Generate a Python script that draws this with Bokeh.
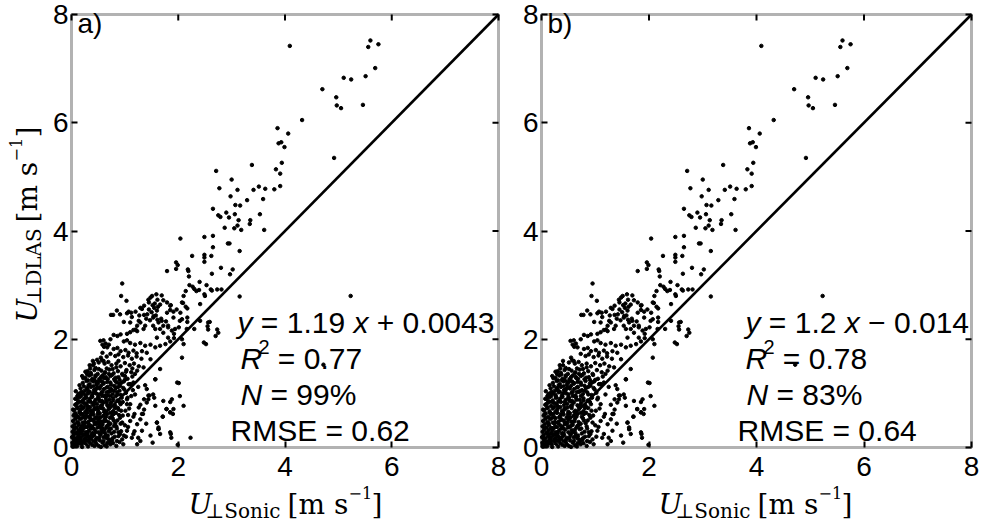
import math
from bokeh.plotting import figure
from bokeh.models import Range1d, FixedTicker, LinearAxis, Label, BoxAnnotation
from bokeh.layouts import row
from bokeh.embed import file_html
from bokeh.resources import INLINE

# ---------------- data ----------------
ticks = [0, 2, 4, 6, 8]
tick_labels = ["0", "2", "4", "6", "8"]
axis_min, axis_max = 0, 8
one_to_one = [0, 8]
panel_letters = ["a)", "b)"]
fit_slope = ["1.19", "1.2"]
fit_sign = ["+", "\u2212"]
fit_icpt = ["0.0043", "0.014"]
r2_vals = ["0.77", "0.78"]
n_vals = ["99%", "83%"]
rmse_vals = ["0.62", "0.64"]

upper_pts = [
    (4.09, 7.42), (5.60, 7.52), (5.56, 7.40), (5.75, 7.45), (5.69, 7.01), (5.10, 6.83), (5.24, 6.80),
    (5.51, 6.86), (4.70, 6.62), (4.96, 6.47), (4.97, 6.32), (5.05, 6.27), (5.46, 6.33), (4.32, 6.05),
    (3.86, 5.90), (4.06, 5.80), (3.88, 5.62), (3.93, 5.64), (3.99, 5.55), (4.92, 5.35), (3.94, 5.26),
    (3.83, 5.14), (3.91, 5.06), (3.91, 4.83), (3.80, 4.77), (3.38, 5.22), (2.71, 5.11), (3.00, 4.95),
    (2.77, 4.79), (3.11, 4.76), (3.41, 4.76), (3.51, 4.82), (3.63, 4.78), (3.29, 4.57), (3.59, 4.59),
    (2.98, 4.64), (3.07, 4.48), (3.16, 4.47), (2.65, 4.41), (2.90, 4.34), (2.75, 4.29), (2.79, 4.26),
    (2.95, 4.25), (3.06, 4.31), (3.53, 4.31), (3.13, 4.20), (3.35, 4.20), (3.34, 4.13), (2.87, 4.06),
    (3.05, 4.05), (3.11, 4.10), (3.18, 4.02), (3.61, 4.02), (2.04, 3.86), (2.49, 3.89), (2.65, 3.91),
    (2.65, 3.70), (2.93, 3.77), (2.96, 3.77), (3.15, 3.63), (2.26, 3.54), (2.49, 3.56), (2.49, 3.51),
    (2.62, 3.54), (2.49, 3.43), (2.18, 3.29), (2.80, 3.32), (3.02, 3.29), (1.96, 3.42), (1.99, 3.37),
    (1.96, 3.30), (4.72, 1.53), (5.23, 2.80), (3.15, 2.79), (0.95, 3.03),
]

mid_pts = [
    (1.79, 3.26), (2.19, 3.26), (2.63, 3.21), (2.97, 3.20), (2.20, 3.16), (2.40, 3.06), (2.53, 3.00),
    (2.27, 2.97), (2.21, 3.00), (2.34, 2.89), (2.49, 2.83), (2.63, 2.90), (2.73, 2.92), (2.81, 2.92),
    (2.10, 2.80), (2.07, 2.68), (2.14, 2.60), (2.17, 2.57), (1.97, 2.55), (1.79, 2.49), (1.86, 2.63),
    (1.72, 2.72), (1.59, 2.83), (1.51, 2.80), (1.48, 2.77), (1.45, 2.68), (1.61, 2.73), (1.69, 2.81),
    (1.79, 2.68), (1.85, 2.62), (1.85, 2.54), (1.91, 2.51), (1.44, 2.73), (1.36, 2.62), (1.29, 2.58),
    (1.20, 2.51), (1.04, 2.48), (0.91, 2.46), (0.78, 2.45), (0.93, 2.80), (1.03, 2.71), (0.85, 2.53),
    (0.74, 2.45), (1.12, 2.49), (1.07, 2.51), (1.32, 2.56), (1.36, 2.45), (1.42, 2.46), (1.53, 2.40),
    (1.58, 2.44), (1.61, 2.36), (1.68, 2.38), (1.77, 2.33), (0.98, 2.32), (1.10, 2.31), (1.26, 2.34),
    (1.13, 2.41), (1.29, 2.31), (1.23, 2.25), (1.38, 2.25), (1.35, 2.19), (1.53, 2.25), (1.57, 2.19),
    (1.66, 2.19), (1.72, 2.25), (1.81, 2.22), (1.88, 2.16), (1.94, 2.19), (2.01, 2.22), (1.16, 2.17),
    (1.20, 2.18), (1.23, 2.15), (1.10, 2.13), (1.04, 2.10), (0.79, 2.08), (0.86, 2.06), (0.92, 2.09),
    (0.73, 2.00), (0.60, 1.98), (0.54, 1.97), (0.64, 1.92), (0.58, 1.90), (0.61, 1.86), (0.67, 1.85),
    (0.98, 1.96), (1.04, 1.98), (1.10, 1.93), (1.19, 1.90), (1.29, 1.93), (1.38, 1.88), (1.48, 1.90),
    (1.57, 1.85), (1.66, 1.88), (1.76, 1.91), (1.85, 1.96), (1.92, 2.02), (1.60, 2.03), (1.72, 2.12),
    (1.81, 2.03), (1.63, 2.31), (1.54, 2.43), (1.69, 2.34), (1.81, 2.25), (1.91, 2.40), (2.03, 2.34),
    (2.07, 2.37), (2.17, 2.40), (2.17, 2.32), (2.04, 2.49), (2.09, 2.67), (2.41, 2.65), (2.50, 2.80),
    (2.30, 2.93), (2.39, 2.91), (2.14, 2.89), (2.61, 2.92), (2.41, 2.34), (2.56, 2.31), (2.59, 2.32),
    (2.55, 2.24), (2.56, 2.18), (2.73, 2.18), (2.75, 2.12), (2.70, 2.06), (2.30, 2.19), (2.16, 2.19),
    (1.92, 2.10), (2.48, 1.94), (2.52, 1.91), (2.07, 2.00), (2.10, 1.91), (2.07, 1.66),
    (0.79, 1.82), (0.86, 1.84), (0.92, 1.78), (1.01, 1.80), (1.07, 1.75), (1.16, 1.79), (1.22, 1.74),
    (1.32, 1.78), (1.41, 1.75), (0.73, 1.73), (0.82, 1.69), (0.88, 1.72), (0.97, 1.67), (1.06, 1.70),
    (1.13, 1.64), (1.22, 1.68), (1.31, 1.64), (0.55, 1.66), (0.60, 1.60), (0.51, 1.57), (0.62, 1.55),
    (0.69, 1.58), (0.75, 1.52), (0.84, 1.55), (0.92, 1.50), (1.00, 1.56), (1.09, 1.52), (1.17, 1.55),
    (1.26, 1.50), (0.57, 1.61), (1.35, 1.48), (1.23, 1.42), (1.48, 1.63), (1.66, 1.45), (0.66, 1.46),
    (0.45, 1.47), (0.40, 1.52), (1.45, 2.55), (1.50, 2.50), (1.40, 2.38), (1.55, 2.58), (1.47, 2.35),
    (1.27, 2.44), (1.62, 2.60), (1.56, 2.66), (1.60, 2.53), (1.52, 2.63), (1.66, 2.64),
]

core_pts = [
    (0.30, 1.41), (0.36, 1.38), (0.43, 1.43), (0.49, 1.36), (0.56, 1.42), (0.63, 1.39), (0.71, 1.44),
    (0.79, 1.37), (0.87, 1.41), (0.95, 1.36), (1.03, 1.43), (1.12, 1.39), (1.19, 1.36),
    (0.26, 1.29), (0.33, 1.33), (0.39, 1.27), (0.45, 1.31), (0.52, 1.26), (0.58, 1.33), (0.65, 1.28),
    (0.73, 1.32), (0.80, 1.26), (0.88, 1.30), (0.96, 1.34), (1.05, 1.27), (1.14, 1.31), (1.57, 1.26),
    (0.21, 1.19), (0.28, 1.23), (0.34, 1.17), (0.41, 1.22), (0.47, 1.16), (0.53, 1.24), (0.60, 1.18),
    (0.67, 1.21), (0.74, 1.16), (0.82, 1.23), (0.90, 1.18), (0.98, 1.22), (1.07, 1.17), (1.16, 1.20),
    (1.38, 1.15),
    (0.17, 1.09), (0.23, 1.13), (0.30, 1.07), (0.36, 1.12), (0.42, 1.06), (0.49, 1.11), (0.55, 1.14),
    (0.61, 1.08), (0.68, 1.12), (0.75, 1.06), (0.83, 1.10), (0.91, 1.14), (0.99, 1.07), (1.10, 1.17),
    (1.41, 1.08), (1.25, 1.12),
    (0.13, 0.99), (0.19, 1.03), (0.26, 0.97), (0.32, 1.02), (0.38, 0.96), (0.44, 1.04), (0.50, 0.98),
    (0.56, 1.01), (0.63, 0.96), (0.70, 1.03), (0.77, 0.99), (0.85, 1.02), (0.93, 0.97), (1.02, 1.01),
    (1.19, 0.98), (1.53, 0.98), (1.44, 0.96),
    (0.10, 0.89), (0.15, 0.93), (0.21, 0.87), (0.27, 0.92), (0.33, 0.86), (0.39, 0.94), (0.45, 0.88),
    (0.51, 0.91), (0.57, 0.86), (0.64, 0.93), (0.71, 0.88), (0.78, 0.91), (0.86, 0.87), (0.94, 0.92),
    (1.04, 0.89), (1.36, 0.89), (1.44, 0.89), (1.72, 0.86), (1.88, 0.89), (2.03, 0.95),
    (0.07, 0.79), (0.12, 0.83), (0.18, 0.77), (0.24, 0.82), (0.30, 0.76), (0.36, 0.84), (0.42, 0.78),
    (0.48, 0.81), (0.54, 0.76), (0.60, 0.83), (0.67, 0.78), (0.74, 0.82), (0.82, 0.77), (0.90, 0.84),
    (1.10, 0.80), (1.29, 0.79), (1.57, 0.77), (2.10, 0.77),
    (0.05, 0.69), (0.10, 0.73), (0.15, 0.67), (0.21, 0.72), (0.26, 0.66), (0.32, 0.74), (0.38, 0.68),
    (0.44, 0.71), (0.50, 0.66), (0.56, 0.73), (0.63, 0.68), (0.70, 0.72), (0.78, 0.67), (0.87, 0.73),
    (1.01, 0.68), (1.36, 0.70), (1.78, 0.71), (1.91, 0.71),
    (0.04, 0.59), (0.08, 0.63), (0.13, 0.57), (0.18, 0.62), (0.24, 0.56), (0.29, 0.64), (0.35, 0.58),
    (0.41, 0.61), (0.47, 0.56), (0.53, 0.63), (0.60, 0.58), (0.67, 0.62), (0.75, 0.57), (0.83, 0.64),
    (0.96, 0.59), (1.18, 0.62), (1.34, 0.62), (1.71, 0.57), (1.85, 0.65),
    (0.03, 0.49), (0.07, 0.53), (0.11, 0.47), (0.16, 0.52), (0.21, 0.46), (0.26, 0.54), (0.32, 0.48),
    (0.37, 0.51), (0.43, 0.46), (0.49, 0.53), (0.55, 0.48), (0.62, 0.52), (0.69, 0.47), (0.77, 0.54),
    (0.91, 0.55), (1.10, 0.49), (1.29, 0.52), (1.60, 0.46),
    (0.02, 0.39), (0.06, 0.43), (0.10, 0.37), (0.14, 0.42), (0.19, 0.36), (0.24, 0.44), (0.29, 0.38),
    (0.35, 0.41), (0.40, 0.36), (0.46, 0.43), (0.52, 0.38), (0.58, 0.42), (0.65, 0.37), (0.73, 0.44),
    (0.84, 0.39), (1.23, 0.43), (1.00, 0.41), (1.63, 0.37),
    (0.02, 0.29), (0.05, 0.33), (0.09, 0.27), (0.13, 0.32), (0.17, 0.26), (0.22, 0.34), (0.27, 0.28),
    (0.33, 0.31), (0.38, 0.26), (0.44, 0.33), (0.50, 0.28), (0.56, 0.32), (0.63, 0.27), (0.71, 0.34),
    (0.80, 0.29), (0.91, 0.25), (1.04, 0.31), (1.32, 0.31), (1.63, 0.34), (1.85, 0.28),
    (0.01, 0.19), (0.04, 0.23), (0.08, 0.17), (0.12, 0.22), (0.16, 0.16), (0.21, 0.24), (0.26, 0.18),
    (0.31, 0.21), (0.36, 0.16), (0.42, 0.23), (0.47, 0.18), (0.54, 0.25), (0.60, 0.19), (0.68, 0.22),
    (0.77, 0.17), (0.88, 0.21), (1.16, 0.25), (1.13, 0.18), (1.66, 0.25), (1.86, 0.25), (1.87, 0.18),
    (0.02, 0.09), (0.05, 0.13), (0.09, 0.07), (0.14, 0.12), (0.19, 0.06), (0.24, 0.11), (0.29, 0.14),
    (0.35, 0.08), (0.41, 0.12), (0.47, 0.06), (0.53, 0.13), (0.60, 0.12), (0.67, 0.08), (0.76, 0.14),
    (0.85, 0.12), (0.97, 0.06), (1.29, 0.12), (1.52, 0.09),
    (0.03, 0.02), (0.11, 0.03), (0.20, 0.01), (0.31, 0.02), (0.43, 0.03), (0.55, 0.01), (0.66, 0.02),
    (0.73, 0.06), (0.84, 0.03), (1.23, 0.06), (1.99, 0.05),
]

below_pts = [
    (1.98, 1.20), (2.01, 1.19), (1.85, 0.84), (1.85, 0.65), (1.78, 0.71), (1.90, 0.62), (1.71, 0.57),
    (1.60, 0.46), (1.63, 0.34), (1.25, 0.18), (1.40, 0.44), (1.48, 0.22), (1.32, 0.62), (1.41, 0.83),
    (1.46, 0.96), (1.55, 0.92), (1.57, 1.26), (1.10, 1.17),
]

core2_pts = [
    (0.08, 1.04), (0.15, 1.15), (0.22, 1.28), (0.29, 1.36), (0.35, 1.46), (0.18, 0.95), (0.25, 1.05),
    (0.32, 1.15), (0.38, 1.24), (0.45, 1.33), (0.51, 1.45), (0.12, 0.74), (0.19, 0.84), (0.27, 0.94),
    (0.34, 1.03), (0.41, 1.13), (0.48, 1.21), (0.55, 1.30), (0.62, 1.37), (0.09, 0.55), (0.16, 0.64),
    (0.23, 0.75), (0.31, 0.85), (0.38, 0.93), (0.46, 1.00), (0.53, 1.09), (0.60, 1.19), (0.68, 1.26),
    (0.76, 1.34), (0.06, 0.36), (0.13, 0.45), (0.20, 0.55), (0.28, 0.65), (0.35, 0.75), (0.43, 0.84),
    (0.50, 0.93), (0.58, 1.03), (0.66, 1.11), (0.73, 1.20), (0.83, 1.29), (0.04, 0.16), (0.11, 0.27),
    (0.18, 0.36), (0.25, 0.47), (0.33, 0.56), (0.40, 0.66), (0.48, 0.74), (0.55, 0.85), (0.63, 0.94),
    (0.71, 1.04), (0.80, 1.14), (0.90, 1.25), (0.07, 0.05), (0.15, 0.08), (0.23, 0.15), (0.30, 0.26),
    (0.38, 0.35), (0.45, 0.45), (0.53, 0.56), (0.61, 0.66), (0.69, 0.76), (0.78, 0.87), (0.87, 0.98),
    (0.97, 1.10), (0.27, 0.07), (0.34, 0.18), (0.41, 0.27), (0.49, 0.37), (0.57, 0.47), (0.65, 0.57),
    (0.73, 0.64), (0.81, 0.73), (0.92, 0.80), (1.05, 0.92), (0.39, 0.05), (0.46, 0.15), (0.54, 0.23),
    (0.62, 0.33), (0.70, 0.42), (0.79, 0.50), (0.89, 0.60), (0.51, 0.03), (0.58, 0.09), (0.66, 0.17),
    (0.75, 0.26), (0.85, 0.35), (0.95, 0.46), (0.62, 0.04), (0.71, 0.11), (0.81, 0.20), (0.93, 0.30),
    (1.06, 0.38), (1.16, 0.57), (1.08, 0.72),
]

core3_pts = [
    (0.20, 1.32), (0.26, 1.40), (0.34, 1.52), (0.40, 1.60), (0.31, 1.24), (0.37, 1.35), (0.43, 1.25),
    (0.50, 1.20), (0.57, 1.22), (0.64, 1.30), (0.70, 1.36), (0.77, 1.45), (0.84, 1.48), (0.14, 0.85),
    (0.22, 1.00), (0.29, 1.10), (0.16, 1.00), (0.11, 0.95), (0.07, 0.90), (0.06, 0.62), (0.09, 0.80),
    (0.03, 0.70), (0.28, 0.80), (0.34, 0.90), (0.40, 1.00), (0.46, 1.08), (0.52, 0.87), (0.58, 0.95),
    (0.66, 1.02), (0.73, 0.95), (0.80, 1.05), (0.87, 1.12), (0.94, 1.20), (1.00, 1.25), (0.22, 0.62),
    (0.29, 0.70), (0.36, 0.62), (0.43, 0.72), (0.49, 0.62), (0.57, 0.78), (0.65, 0.88), (0.72, 0.78),
    (0.79, 0.62), (0.86, 0.50), (0.93, 0.68), (0.15, 0.20), (0.20, 0.30), (0.25, 0.38), (0.31, 0.45),
    (0.37, 0.52), (0.42, 0.50), (0.48, 0.45), (0.55, 0.40), (0.61, 0.48), (0.67, 0.40), (0.74, 0.35),
    (0.82, 0.45), (0.88, 0.28), (0.95, 0.15), (1.02, 0.20), (0.10, 0.10), (0.18, 0.12), (0.26, 0.24),
    (0.32, 0.12), (0.39, 0.20), (0.45, 0.10), (0.52, 0.18), (0.58, 0.28), (0.64, 0.22), (0.70, 0.15),
    (0.78, 0.08), (0.90, 0.10),
]

a_only_pts = [
    (0.05, 0.26), (0.10, 0.58), (0.14, 0.30), (0.17, 0.70), (0.20, 0.40), (0.24, 0.90), (0.27, 0.58),
    (0.31, 1.00), (0.35, 0.68), (0.37, 0.22), (0.40, 0.80), (0.44, 0.55), (0.47, 1.18), (0.50, 0.70),
    (0.52, 0.45), (0.56, 0.98), (0.59, 0.72), (0.61, 1.28), (0.64, 0.50), (0.68, 0.96), (0.70, 0.30),
    (0.74, 1.08), (0.77, 0.62), (0.80, 0.40), (0.85, 1.20), (0.88, 0.70), (0.92, 0.44), (0.96, 0.84),
    (1.00, 1.32), (1.06, 0.60), (1.12, 0.95), (1.18, 0.30), (1.26, 0.74), (0.12, 0.15), (0.22, 0.10),
    (0.33, 0.40), (0.45, 0.28), (0.57, 0.36), (0.66, 0.83), (0.72, 0.55), (0.83, 0.95), (0.90, 1.05),
    (0.98, 0.22), (1.04, 0.80), (1.15, 1.06), (2.23, 0.18), (0.42, 1.55), (0.58, 1.75), (0.70, 1.90),
    (0.88, 1.60), (1.02, 1.40), (1.14, 1.46), (0.48, 1.62), (0.66, 1.68),
]

shared = upper_pts + mid_pts + core_pts + below_pts + core2_pts + core3_pts
panel_points = [shared + a_only_pts, shared]

# ---------------- layout helpers ----------------
SANS = "Liberation Sans"
SERIF = "DejaVu Serif"
AW = {" ": 0.278, "=": 0.584, "+": 0.584, "\u2212": 0.584, ".": 0.278, "%": 0.889,
      "x": 0.5, "y": 0.5, "R": 0.722, "N": 0.722, "M": 0.833, "S": 0.667, "E": 0.667}


def tw(s, size):
    return sum(AW.get(c, 0.556) for c in s) * size


H = 523
Y8 = 14      # pixel row of y=8
Y0 = 447     # pixel row of y=0
SHIFT = 10   # empirical baseline correction of Label text

panels_geom = [
    dict(canvas_x=0, width=510, x0=71, x8=498),
    dict(canvas_x=510, width=474, x0=31, x8=461),
]

figs = []
for i, g in enumerate(panels_geom):
    sx = (g["x8"] - g["x0"]) / (axis_max - axis_min)
    sy = (Y0 - Y8) / (axis_max - axis_min)
    xr = Range1d(axis_min - g["x0"] / sx, axis_min + (g["width"] - g["x0"]) / sx)
    yr = Range1d(axis_min - (H - Y0) / sy, axis_max + Y8 / sy)

    p = figure(width=g["width"], height=H, x_range=xr, y_range=yr,
               output_backend="svg", toolbar_location=None,
               x_axis_type=None, y_axis_type=None,
               min_border_left=0, min_border_right=0, min_border_top=0, min_border_bottom=0)
    p.outline_line_color = None
    p.background_fill_color = "white"
    p.border_fill_color = "white"

    def conv(px, py, g=g, sx=sx, sy=sy):
        return axis_min + (px - g["canvas_x"] - g["x0"]) / sx, axis_min + (Y0 - py) / sy

    def put(px, py, text, size, italic=False, font=SANS, angle=0.0, p=p, conv=conv):
        if angle == 0.0:
            x, y = conv(px, py - SHIFT)
        else:
            x, y = conv(px - SHIFT, py)
        p.add_layout(Label(x=x, y=y, x_units="data", y_units="data", text=text,
                           text_font=font, text_font_size=f"{size}px",
                           text_font_style="italic" if italic else "normal",
                           text_color="black", text_align="left",
                           text_baseline="alphabetic", angle=angle))

    def rich(px, py, pieces, put=put):
        x = px
        for text, italic, size, rise, adv in pieces:
            lead = len(text) - len(text.lstrip(" "))
            put(x + tw(" " * lead, size), py - rise, text.strip(" "), size, italic)
            x += adv if adv is not None else tw(text, size)

    # frame box
    p.add_layout(BoxAnnotation(left=axis_min, right=axis_max, bottom=axis_min, top=axis_max,
                               fill_alpha=0, line_color="black", line_width=3))

    # axes at fixed locations (bottom and left carry labels)
    for loc, fixed in [("below", axis_min), ("left", axis_min)]:
        ax = LinearAxis(ticker=FixedTicker(ticks=ticks, minor_ticks=[]),
                        major_label_overrides={t: s for t, s in zip(ticks, tick_labels)},
                        fixed_location=fixed, bounds=(axis_min, axis_max))
        ax.axis_line_color = None
        ax.major_tick_in = 6
        ax.major_tick_out = 0
        ax.major_tick_line_width = 2
        ax.minor_tick_in = 0
        ax.minor_tick_out = 0
        ax.major_label_text_font = SANS
        ax.major_label_text_color = "black"
        ax.major_label_text_font_size = "28px"
        ax.major_label_standoff = 9 if loc == "below" else 3
        p.add_layout(ax, loc)

    # inward ticks on the top and right edges
    tl_x = 6 / sx
    tl_y = 6 / sy
    p.segment(x0=ticks, y0=[axis_max] * len(ticks), x1=ticks, y1=[axis_max - tl_y] * len(ticks),
              line_color="black", line_width=2)
    p.segment(x0=[axis_max] * len(ticks), y0=ticks, x1=[axis_max - tl_x] * len(ticks), y1=ticks,
              line_color="black", line_width=2)

    pts = panel_points[i]
    p.scatter([q[0] for q in pts], [q[1] for q in pts], size=3.5, color="black")
    p.line(one_to_one, one_to_one, line_width=2.6, color="black")

    fl = g["canvas_x"] + g["x0"]
    put(fl + 6, 33, panel_letters[i], 28)

    xs = [237, 240, 240, 230] if i == 0 else [745, 745, 746, 737]
    bl = [332, 368, 404, 440]
    rich(xs[0], bl[0], [
        ("y", True, 30, 0, None),
        (" = " + fit_slope[i] + " ", False, 30, 0, None),
        ("x", True, 30, 0, None),
        (" " + fit_sign[i] + " " + fit_icpt[i], False, 30, 0, None),
    ])
    rich(xs[1], bl[1], [
        ("R", True, 30, 0, 18),
        ("2", False, 20, 12, 11),
        (" = " + r2_vals[i], False, 30, 0, None),
    ])
    rich(xs[2], bl[2], [
        ("N", True, 30, 0, None),
        (" = " + n_vals[i], False, 30, 0, None),
    ])
    rich(xs[3], bl[3], [
        ("RMSE = " + rmse_vals[i], False, 30, 0, None),
    ])

    # x axis label
    dx = fl - 71
    put(188 + dx, 514, "U", 28, True, SERIF)
    put(205 + dx, 520, "\u22a5Sonic", 20, False, SERIF)
    put(287 + dx, 514, "[m s", 28, False, SERIF)
    put(348 + dx, 502, "\u22121", 16, False, SERIF)
    put(371 + dx, 514, "]", 28, False, SERIF)

    if i == 0:
        ang = math.pi / 2
        put(37, 322, "U", 28, True, SERIF, ang)
        put(43, 304, "\u22a5DLAS", 20, False, SERIF, ang)
        put(37, 222, "[m s", 28, False, SERIF, ang)
        put(25, 161, "\u22121", 16, False, SERIF, ang)
        put(37, 137, "]", 28, False, SERIF, ang)

    figs.append(p)

layout = row(*figs)
open("out.html", "w").write(file_html(layout, INLINE))
